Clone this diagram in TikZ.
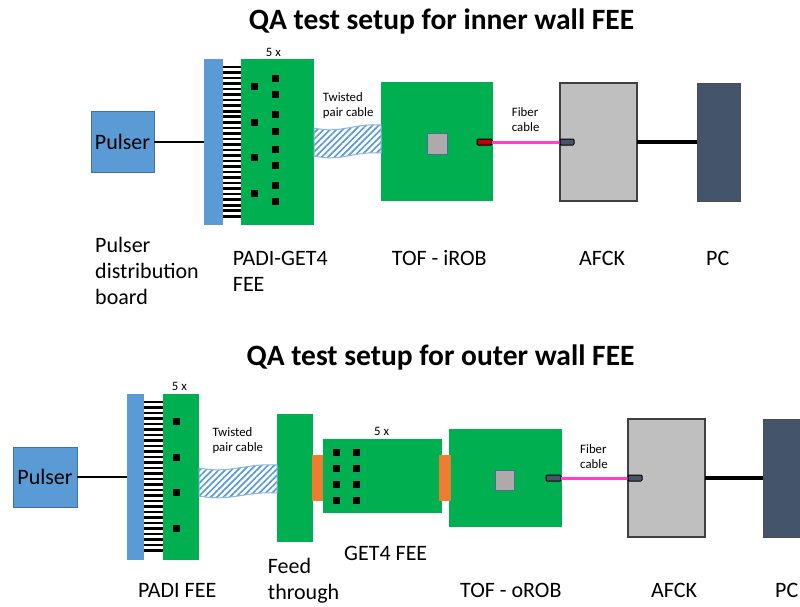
\documentclass[tikz,border=0pt]{standalone}
\usepackage{fontspec}
\setmainfont{Carlito}
\usetikzlibrary{calc,patterns.meta}
\definecolor{padBlue}{HTML}{5B9BD5}
\definecolor{padBlueDk}{HTML}{41719C}
\definecolor{boardGreen}{HTML}{00B050}
\definecolor{chipGrey}{HTML}{AEAAAA}
\definecolor{chipEdge}{HTML}{4A6A9A}
\definecolor{connRed}{HTML}{C00000}
\definecolor{slate}{HTML}{44546A}
\definecolor{fiberPink}{HTML}{FF3FD2}
\definecolor{afckGrey}{HTML}{BFBFBF}
\definecolor{connOrange}{HTML}{ED7D31}
\definecolor{hatchEdge}{HTML}{8DB3E2}
\tikzset{
  qbox/.style={anchor=north west,inner sep=0pt,outer sep=0pt},
  qpulser/.style={qbox,fill=padBlue,draw=padBlueDk,line width=1pt,
    font=\fontsize{22}{26}\selectfont},
  qbar/.style={qbox,fill=padBlue},
  qboard/.style={qbox,fill=boardGreen},
  qchip/.style={qbox,fill=chipGrey,draw=chipEdge,line width=1pt},
  qplug/.style={qbox,rounded corners=1pt,draw=black,line width=1pt},
  qafck/.style={qbox,fill=afckGrey,draw=black!75,line width=1.5pt},
  qpc/.style={qbox,fill=slate,draw=black!70,line width=1pt},
  qorange/.style={qbox,fill=connOrange},
  qlabel/.style={anchor=base west,inner sep=0pt,align=left,
    font=\fontsize{22}{26}\selectfont},
  qsmall/.style={anchor=base west,inner sep=0pt,align=left,
    font=\fontsize{12.8}{15}\selectfont},
  qtitle/.style={anchor=base,inner sep=0pt,font=\bfseries\fontsize{29.5}{34}\selectfont},
  qwire/.style={line width=2pt},
  qthick/.style={line width=4pt},
  qfiber/.style={draw=fiberPink,line width=3pt},
  qpin/.style={line width=2.6pt},
  qcable/.style={pattern={Lines[angle=45,distance=4.5pt,line width=1.7pt]},
    pattern color=padBlue,draw=hatchEdge,line width=1pt},
}
% twisted pair band from #1 to #2, shifted by #3
\newcommand{\tpcable}[3]{%
  \path[qcable] let \p1=(#1.east), \p2=(#2.west) in
    (\x1,\y1+#3+14pt) .. controls ({\x1+0.4*(\x2-\x1)},\y1+#3+8pt) and ({\x1+0.6*(\x2-\x1)},\y1+#3+19pt) .. (\x2,\y1+#3+17pt)
    -- (\x2,\y1+#3-11pt) .. controls ({\x1+0.6*(\x2-\x1)},\y1+#3-9pt) and ({\x1+0.4*(\x2-\x1)},\y1+#3-20pt) .. (\x1,\y1+#3-14pt) -- cycle;}

\begin{document}
\begin{tikzpicture}[x=1pt,y=-1pt]
\useasboundingbox (0,0) rectangle (800,606);
\clip (0,0) rectangle (800,606);

% inner wall
\node[qtitle] (titleA) at (441.5,29) {QA test setup for inner wall FEE};
\node[qpulser,minimum width=63pt,minimum height=61pt] (pulserA) at (91,111) {Pulser};
\node[qbar,minimum width=19pt,minimum height=166pt] (barA) at (204,59) {};
\node[qboard,minimum width=73pt,minimum height=166pt] (padiA) at (241,59) {};
\foreach \i in {0,...,27}
  \draw[qpin] ([yshift=-8pt-5.53pt*\i]barA.north east) -- ([yshift=-8pt-5.53pt*\i]padiA.north west);
\foreach \x/\y in {254/86,254/122,254/157,254/193,275/78,275/94,275/114,275/131,275/149,275/165,275/185,275/201}
  \fill (\x-3.5,\y-3.5) rectangle +(7,7);
\node[qboard,minimum width=112pt,minimum height=119pt] (irob) at (381,82) {};
\node[qchip,minimum width=20pt,minimum height=21pt] (chipA) at (427,133) {};
\node[qafck,minimum width=77pt,minimum height=118pt] (afckA) at (560,83) {};
\node[qpc,minimum width=43pt,minimum height=118pt] (pcA) at (697,83) {};
\node[qplug,fill=connRed,minimum width=15pt,minimum height=6pt] (rxA) at (477,139) {};
\draw[qwire] (pulserA.east) -- (pulserA.east -| barA.west);
\tpcable{padiA}{irob}{0pt}
\draw[qfiber] (rxA.east) -- (rxA.east -| afckA.west);
\node[qplug,fill=slate,minimum width=14pt,minimum height=6pt] (txA) at (560,139) {};
\draw[qthick] (afckA.east) -- (afckA.east -| pcA.west);

\node[qsmall] (nA1) at (265.7,56) {5 x};
\node[qsmall] (tpA) at (322.7,116.7) {Twisted\\pair cable};
\node[qsmall] (fbA) at (511.7,131.7) {Fiber\\cable};
\node[qlabel] (lA1) at (95,304) {Pulser\\distribution\\board};
\node[qlabel] (lA2) at (232.7,291) {PADI-GET4\\FEE};
\node[qlabel] (lA3) at (391.7,265) {TOF - iROB};
\node[qlabel] (lA4) at (579,265) {AFCK};
\node[qlabel] (lA5) at (706,265) {PC};

% outer wall
\node[qtitle] (titleB) at (440.5,365) {QA test setup for outer wall FEE};
\node[qpulser,minimum width=64pt,minimum height=60pt] (pulserB) at (13,447) {Pulser};
\node[qbar,minimum width=17pt,minimum height=166pt] (barB) at (127,394) {};
\node[qboard,minimum width=36pt,minimum height=166pt] (padiB) at (163,394) {};
\foreach \i in {0,...,27}
  \draw[qpin] ([yshift=-8pt-5.5pt*\i]barB.north east) -- ([yshift=-8pt-5.5pt*\i]padiB.north west);
\foreach \y in {421,457,492,528}
  \fill (176-3.5,\y-3.5) rectangle +(7,7);
\node[qboard,minimum width=36pt,minimum height=128pt] (feed) at (277,414) {};
\node[qboard,minimum width=119pt,minimum height=74pt] (get4) at (323,439) {};
\foreach \x/\y in {336/452,336/468,336/484,336/500,356/452,356/468,356/484,356/500}
  \fill (\x-3.5,\y-3.5) rectangle +(7,7);
\node[qboard,minimum width=113pt,minimum height=98pt] (orob) at (449,429) {};
\node[qorange,minimum width=11pt,minimum height=46pt] (orA) at (312,455) {};
\node[qorange,minimum width=12pt,minimum height=46pt] (orB) at (439,455) {};
\node[qchip,minimum width=19pt,minimum height=20pt] (chipB) at (495,470) {};
\node[qafck,minimum width=77pt,minimum height=118pt] (afckB) at (628,419) {};
\node[qpc,minimum width=60pt,minimum height=118pt] (pcB) at (763,419) {};
\node[qplug,fill=slate,minimum width=15pt,minimum height=6pt] (rxB) at (546,475) {};
\draw[qwire] (pulserB.east) -- (pulserB.east -| barB.west);
\tpcable{padiB}{feed}{-5pt}
\draw[qfiber] (rxB.east) -- (rxB.east -| afckB.west);
\node[qplug,fill=slate,minimum width=14pt,minimum height=6pt] (txB) at (628,475) {};
\draw[qthick] (afckB.east) -- (afckB.east -| pcB.west);

\node[qsmall] (nB1) at (171.7,390) {5 x};
\node[qsmall] (nB2) at (374,435.7) {5 x};
\node[qsmall] (tpB) at (212.3,451.7) {Twisted\\pair cable};
\node[qsmall] (fbB) at (580,468.3) {Fiber\\cable};
\node[qlabel] (lB1) at (138,597.5) {PADI FEE};
\node[qlabel] (lB2) at (267.7,599.5) {Feed\\through};
\node[qlabel] (lB3) at (344,560) {GET4 FEE};
\node[qlabel] (lB4) at (460,597.5) {TOF - oROB};
\node[qlabel] (lB5) at (651,597.5) {AFCK};
\node[qlabel] (lB6) at (775,597.5) {PC};
\end{tikzpicture}
\end{document}
